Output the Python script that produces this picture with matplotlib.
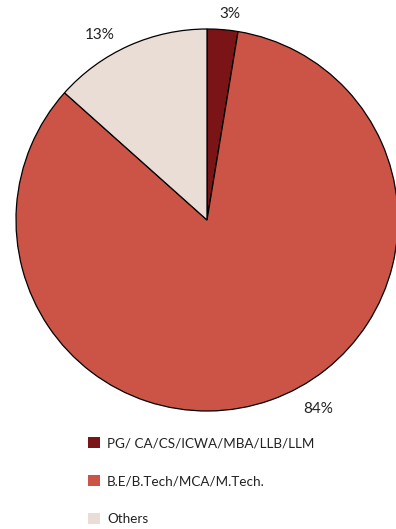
import matplotlib
matplotlib.use("Agg")
import matplotlib.pyplot as plt
from matplotlib.patches import Patch

categories = ["PG/ CA/CS/ICWA/MBA/LLB/LLM", "B.E/B.Tech/MCA/M.Tech.", "Others"]
shares = [2.6, 84.0, 13.4]
pct_labels = ["3%", "84%", "13%"]
colors = ["#7a1416", "#cb5446", "#eaddd5"]

# label placement (relative to pie center / radius, as in Excel "best fit")
label_pos = [(0.12, 1.08), (0.58, -0.99), (-0.56, 0.97)]

W, H = 396, 529
fig = plt.figure(figsize=(W / 100, H / 100), dpi=100)
plt.rcParams["font.family"] = ["Lato", "DejaVu Sans"]

cx, cy, r = 207, 220, 191
ax = fig.add_axes([(cx - r) / W, (H - cy - r) / H, 2 * r / W, 2 * r / H])
wedges, _ = ax.pie(
    shares,
    colors=colors,
    startangle=90,
    counterclock=False,
    wedgeprops=dict(edgecolor="black", linewidth=0.9),
)
ax.set_xlim(-1, 1)
ax.set_ylim(-1, 1)
ax.set_aspect("equal")
ax.axis("off")

for (x, y), txt in zip(label_pos, pct_labels):
    ax.text(x, y, txt, ha="center", va="center", fontsize=11, color="#222222")

handles = [Patch(facecolor=c, edgecolor="none") for c in colors]
fig.legend(
    handles,
    categories,
    loc="upper left",
    bbox_to_anchor=(76 / W, 1 - 425 / H),
    frameon=False,
    fontsize=9.7,
    handlelength=0.9,
    handleheight=0.9,
    handletextpad=0.5,
    labelspacing=1.9,
    labelcolor="#222222",
)

fig.savefig("out.png", dpi=100)
